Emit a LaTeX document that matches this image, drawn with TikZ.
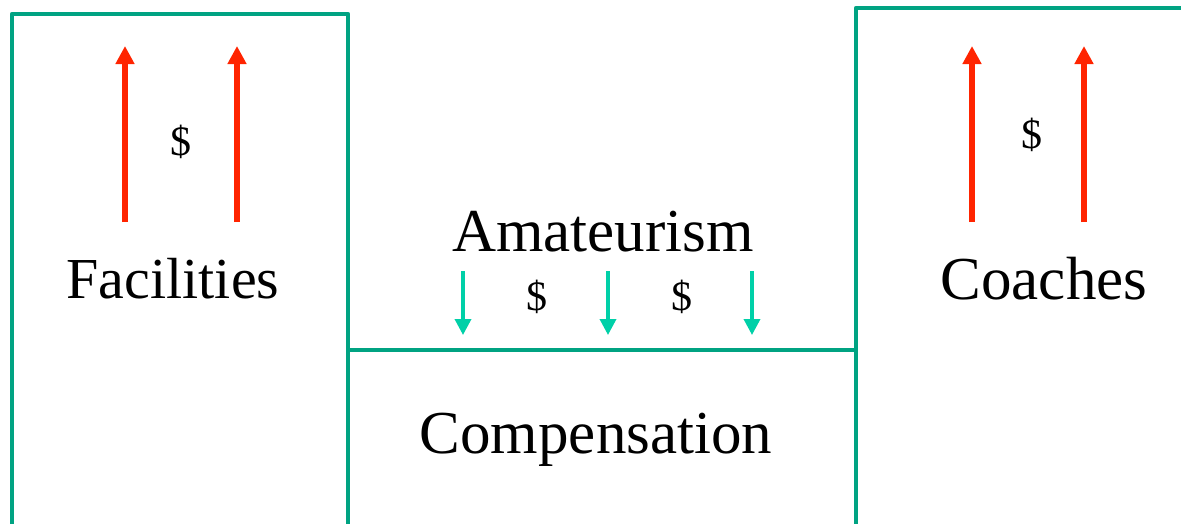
\documentclass[tikz,border=0pt]{standalone}
\usepackage{fontspec}
\setmainfont{Liberation Serif}
\usetikzlibrary{arrows.meta}
\definecolor{boxgreen}{RGB}{0,163,130}
\definecolor{upred}{RGB}{255,36,0}
\definecolor{downteal}{RGB}{0,208,168}
\tikzset{
  boxline/.style={draw=boxgreen,line width=4.5pt,line join=round},
  uparrow/.style={draw=upred,line width=6pt,-{Triangle[width=18pt,length=18pt]}},
  downarrow/.style={draw=downteal,line width=3.5pt,-{Triangle[width=16pt,length=16pt]}},
  bigtext/.style={font=\fontsize{61}{64}\selectfont,inner sep=0pt},
  midtext/.style={font=\fontsize{58}{62}\selectfont,inner sep=0pt},
  dollar/.style={font=\fontsize{42}{46}\selectfont,inner sep=0pt},
}
\begin{document}
\begin{tikzpicture}[x=1pt,y=-1pt]
\useasboundingbox (0,0) rectangle (1181,523);
\clip (0,0) rectangle (1181,523);
% boxes
\draw[boxline] (12,530) -- (12,14) -- (348,14) -- (348,530);
\draw[boxline] (348,350) -- (856,350);
\draw[boxline] (856,530) -- (856,8) -- (1190,8);
% labels
\node[midtext] (fac) at (173,279) {Facilities};
\node[bigtext] (coa) at (1044,279) {Coaches};
\node[bigtext] (ama) at (603,232) {Amateurism};
\node[bigtext] (com) at (596,440) {Compensation};
\node[dollar] (d1) at (181,142) {\$};
\node[dollar] (d2) at (1032,135) {\$};
\node[dollar] (d3) at (537,297) {\$};
\node[dollar] (d4) at (682,297) {\$};
% arrow coordinates
\coordinate (r1a) at (125,222); \coordinate (r1b) at (125,46);
\coordinate (r2a) at (237,222); \coordinate (r2b) at (237,46);
\coordinate (r3a) at (972,222); \coordinate (r3b) at (972,46);
\coordinate (r4a) at (1084,222); \coordinate (r4b) at (1084,46);
\coordinate (t1a) at (463,271); \coordinate (t1b) at (463,335);
\coordinate (t2a) at (608,271); \coordinate (t2b) at (608,335);
\coordinate (t3a) at (752,271); \coordinate (t3b) at (752,335);
\draw[uparrow] (r1a) -- (r1b);
\draw[uparrow] (r2a) -- (r2b);
\draw[uparrow] (r3a) -- (r3b);
\draw[uparrow] (r4a) -- (r4b);
\draw[downarrow] (t1a) -- (t1b);
\draw[downarrow] (t2a) -- (t2b);
\draw[downarrow] (t3a) -- (t3b);
\end{tikzpicture}
\end{document}
